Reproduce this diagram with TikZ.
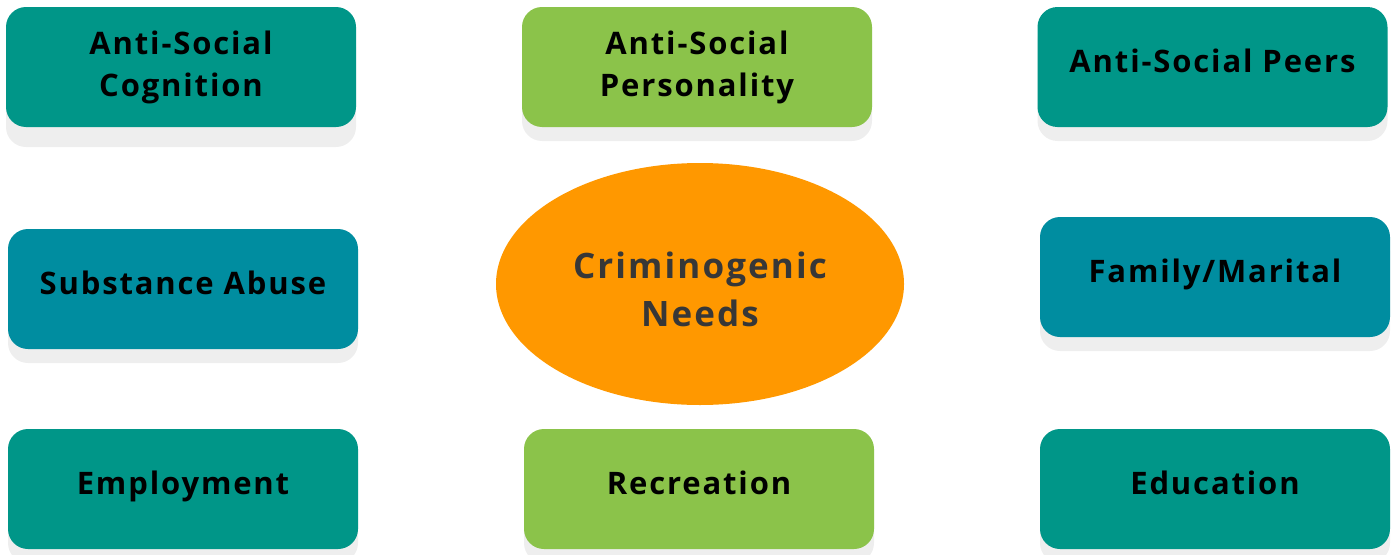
\documentclass[tikz,border=0pt]{standalone}
\usepackage{fontspec}
\setmainfont{Open Sans}[LetterSpace=6]
\usetikzlibrary{shapes.geometric,shadows}
\definecolor{tealc}{RGB}{0,150,136}
\definecolor{bluec}{RGB}{0,141,160}
\definecolor{greenc}{RGB}{139,195,74}
\definecolor{orangec}{RGB}{255,152,0}
\definecolor{shadowc}{RGB}{238,238,238}
\definecolor{darktext}{RGB}{55,55,55}
\tikzset{
  card/.style={rounded corners=20pt, minimum width=350pt, minimum height=120pt,
    inner sep=0pt, align=center, text=black,
    font=\fontsize{31}{42}\selectfont\bfseries,
    drop shadow={shadow xshift=0pt, shadow yshift=-#1, fill=shadowc, opacity=1}},
  card/.default=14pt,
  oneline/.style={text height=22pt, text depth=12pt},
  hub/.style={ellipse, fill=orangec, minimum width=408pt, minimum height=242pt,
    inner sep=0pt},
  hubtext/.style={align=center, text=darktext, inner sep=0pt,
    font=\fontsize{35}{48}\selectfont\bfseries}
}
\begin{document}
\begin{tikzpicture}[x=1pt,y=-1pt]
\useasboundingbox (0,0) rectangle (1394,554);
\node[card=20pt, fill=tealc] (cog) at (181,67) {Anti-Social\\Cognition};
\node[card, fill=greenc] (pers) at (697,67) {Anti-Social\\Personality};
\node[card, oneline, fill=tealc] (peers) at (1212.5,67) {Anti-Social Peers};
\node[card, oneline, fill=bluec] (subs) at (183,289) {Substance Abuse};
\node[hub] (needs) at (700,284) {};
\node[hubtext] (needslabel) at ([yshift=-5pt]needs.center) {Criminogenic\\Needs};
\node[card, oneline, fill=bluec] (fam) at (1215,277) {Family/Marital};
\node[card, oneline, fill=tealc] (emp) at (183,489) {Employment};
\node[card, oneline, fill=greenc] (rec) at (699,489) {Recreation};
\node[card, oneline, fill=tealc] (edu) at (1215,489) {Education};
\end{tikzpicture}
\end{document}
